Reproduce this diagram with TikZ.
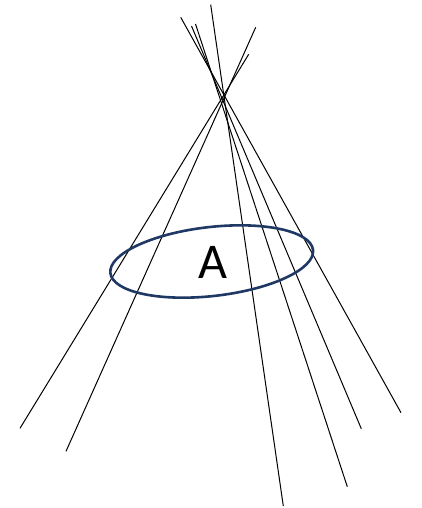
\documentclass[tikz,border=0pt]{standalone}
\usepackage{fontspec}
\setmainfont{Carlito}
\usetikzlibrary{positioning}
\definecolor{ringBlue}{HTML}{203864}

\begin{document}
\begin{tikzpicture}[x=1pt, y=-1pt,
    pole/.style={draw, black, line width=1pt},
    ring/.style={draw=ringBlue, line width=2.6pt},
    ring_label/.style={font=\fontsize{50}{50}\selectfont, inner sep=0pt}
]
\useasboundingbox (0,0) rectangle (421,508);

% upper and lower ends of the poles
\coordinate (t1) at (180.7,17.3);
\coordinate (t2) at (191.5,26);
\coordinate (t3) at (195.5,24);
\coordinate (t4) at (210.7,4.7);
\coordinate (t5) at (255.7,27.3);
\coordinate (t6) at (248.7,54.3);
\coordinate (b1) at (401,412.7);
\coordinate (b2) at (361.3,428.7);
\coordinate (b3) at (347.3,486.7);
\coordinate (b4) at (283.3,506);
\coordinate (b5) at (66,451.3);
\coordinate (b6) at (20,428.3);

\foreach \i in {1,...,6}
    \draw[pole] (t\i) -- (b\i);

\draw[ring, rotate around={6.5:(211.7,261.5)}] (211.7,261.5) ellipse [x radius=102, y radius=34.5];
\node[ring_label] (lblA) at (213.4,262.5) {A};
\end{tikzpicture}
\end{document}
